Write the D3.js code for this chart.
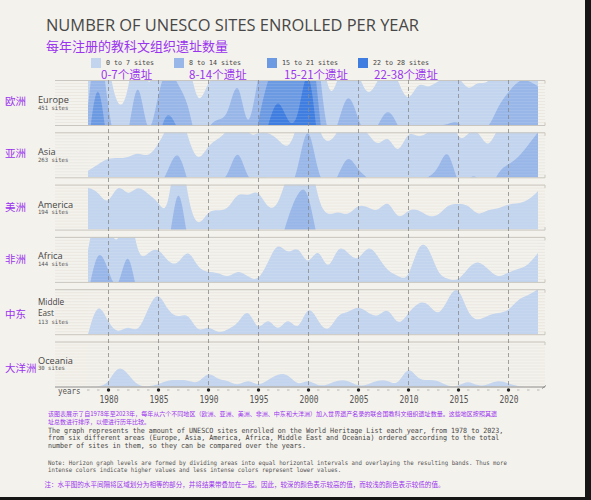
<!DOCTYPE html>
<html><head><meta charset="utf-8">
<script src="https://cdn.jsdelivr.net/npm/d3@7"></script>
<style>
html,body{margin:0;padding:0;background:#161616;}
svg{display:block;}
</style></head>
<body>
<svg id="chart" width="585" height="497"></svg>
<script>
// ---------- DATA ----------
const years = d3.range(1978, 2024);
const tickYears = [1980,1985,1990,1995,2000,2005,2010,2015,2020];
const regions = ["Europe","Asia","America","Africa","Middle East","Oceania"];
const regionsZh = ["欧洲","亚洲","美洲","非洲","中东","大洋洲"];
const totals = [451,263,194,144,113,30];

const europe = [10,24,9,2,4,17,3,12,17,13, 11,2,7,8,8,16,4,15,21,26, 21,21,33,18,3,7,13,8,4,7, 10,7,3,7,5.5,7,7,8,5,7, 6,10,12,14,14,13];
const asia = [1,2,3,3,3,4,3,5,8,12, 6,2,5,6,7,12.5,6,7,7,6, 4,8,17,7,5,7,11,8,7,4.5, 7,3,7.5,6,7,8,12.5,5,7,7.5, 4,8,9,10,12,14];
const america = [6.5,6,3.5,7.5,5,7,5.5,4.5,1.5,17, 4,0,3,3,3,6,5,6.5,3,3.5, 9,13,14,4,2,3,2,4,3.5,2.6, 5,1.2,3.2,3.2,2,2,4,4,4,2, 3.2,3.2,4,4,4.5,6];
const africa = [5,13,9,4.5,14,3,4.5,5.5,3,2.5, 5.5,2,1.5,1.5,0.5,2,0.8,0,3,6.5, 4,6,2,6,1,6,4.5,3,6,4, 1.5,1,0,6,6,1,0.5,0,2.2,3.5, 2,0.5,1.5,2,2.5,4.5];
const middleEast = [0,5.5,1.8,0,1.5,0,4,7,3.5,2.5, 3.5,0,1.5,0,0.8,1.5,4.5,0,3,0, 3,0,5,2,0,3.3,3.3,4.5,3.3,2.5, 4.5,1,3.3,5,5,2.5,5.5,8,3,2, 3,3.3,3.5,5.5,6,7];
const oceania = [0,0,0.3,3.5,2,0,0,0.3,1,1, 1,0.3,2.5,1,1,0,1.2,0,1,2, 2,0,1.2,0,0.3,1,1,0,0.3,1, 1,0,3.5,1,1,1,0,0,1,0, 0.3,1,0.5,0,0,0];
const seriesList = [europe, asia, america, africa, middleEast, oceania];

const bandSize = 7;
const bandLabels = ["0 to 7 sites","8 to 14 sites","15 to 21 sites","22 to 28 sites"];
const bandLabelsZh = ["0-7个遗址","8-14个遗址","15-21个遗址","22-38个遗址"];
const bandColors = ["#c2d4ee","#98b6e8","#6c9ae2","#3f7ee0"];

const titleText = "NUMBER OF UNESCO SITES ENROLLED PER YEAR";
const subtitleZh = "每年注册的教科文组织遗址数量";
const descZh = ["该图表展示了自1978年至2023年，每年从六个不同地区（欧洲、亚洲、美洲、非洲、中东和大洋洲）加入世界遗产名录的联合国教科文组织遗址数量。这些地区按照其遗",
                "址总数进行排序，以便进行历年比较。"];
const descEn = ["The graph represents the amount of UNESCO sites enrolled on the World Heritage List each year, from 1978 to 2023,",
                "from six different areas (Europe, Asia, America, Africa, Middle East and Oceania) ordered according to the total",
                "number of sites in them, so they can be compared over the years."];
const noteEn = ["Note: Horizon graph levels are formed by dividing areas into equal horizontal intervals and overlaying the resulting bands. Thus more",
                "intense colors indicate higher values and less intense colors represent lower values."];
const noteZh = "注：水平图的水平间隔将区域划分为相等的部分，并将结果带叠加在一起。因此，较深的颜色表示较高的值，而较浅的颜色表示较低的值。";

// ---------- LAYOUT ----------
const W = 585, Hsvg = 497;
const purple = "#9a34ee";
const mono = "'DejaVu Sans Mono', monospace";
const sans = "'Open Sans', 'DejaVu Sans', sans-serif";
const cjk = "'Noto Sans CJK SC', sans-serif";
const lineX0 = 55, lineX1 = 545;
const panelTop0 = 80, panelStep = 52.3, panelH = 45;
const axisY = panelTop0 + 5*panelStep + panelH + 0.5;

const svg = d3.select("#chart");
svg.append("rect").attr("width", W).attr("height", Hsvg).attr("fill", "#f4f2ec");

const x = d3.scaleLinear().domain([1978, 2023]).range([88, 538]);
const yBand = d3.scaleLinear().domain([0, bandSize]).range([panelH, 0]);

// Title
svg.append("text").attr("x", 46).attr("y", 31).text(titleText)
  .attr("font-family", sans).attr("font-size", 15.6).attr("fill", "#474747")
  .attr("textLength", 373).attr("lengthAdjust", "spacingAndGlyphs");
svg.append("text").attr("x", 46).attr("y", 51).text(subtitleZh)
  .attr("font-family", cjk).attr("font-size", 13).attr("fill", purple);

// Legend
const legendX = [91, 174, 267, 358];
const legendZhX = [101, 189, 284, 374];
bandLabels.forEach((lab, i) => {
  svg.append("rect").attr("x", legendX[i]).attr("y", 58).attr("width", 10).attr("height", 10).attr("fill", bandColors[i]);
  svg.append("text").attr("x", legendX[i] + 15).attr("y", 64.5).text(lab)
    .attr("font-family", mono).attr("font-size", 6.8).attr("fill", "#444")
    .attr("textLength", lab.length * 4).attr("lengthAdjust", "spacingAndGlyphs");
  svg.append("text").attr("x", legendZhX[i]).attr("y", 79).text(bandLabelsZh[i])
    .attr("font-family", cjk).attr("font-size", 11.5).attr("fill", purple);
});

// Panels
const defs = svg.append("defs");
const area = d3.area()
  .x((d, i) => x(years[i]))
  .y0(panelH)
  .y1(d => yBand(d))
  .curve(d3.curveBasis);

const labelOffsets = [
  {zh: 24.5, lines: [23], sites: 29.5, fs: 9.2},
  {zh: 24.5, lines: [23], sites: 29.5, fs: 9.2},
  {zh: 26, lines: [23], sites: 29.5, fs: 9.2},
  {zh: 26, lines: [22.5], sites: 29, fs: 9.2},
  {zh: 29, lines: [15.4, 26.7], sites: 35, fs: 8.2},
  {zh: 30.5, lines: [22], sites: 28.5, fs: 9.2}
];

seriesList.forEach((vals, r) => {
  const top = panelTop0 + r * panelStep;
  const g = svg.append("g").attr("transform", `translate(0,${top})`);
  const cid = "clip" + r;
  defs.append("clipPath").attr("id", cid).append("rect")
    .attr("x", 0).attr("y", 0).attr("width", W).attr("height", panelH);

  d3.range(0, panelH, 3).forEach(gy => {
    g.append("line").attr("x1", lineX0).attr("x2", lineX1).attr("y1", gy + 0.5).attr("y2", gy + 0.5)
      .attr("stroke", "#e4e1da").attr("stroke-width", 0.6);
  });

  const bands = g.append("g").attr("clip-path", `url(#${cid})`);
  bandColors.forEach((c, b) => {
    bands.append("path").datum(vals).attr("d", area)
      .attr("fill", c).attr("transform", `translate(0,${b * panelH})`);
  });

  d3.range(0, panelH, 3).forEach(gy => {
    g.append("line").attr("x1", 88).attr("x2", 538).attr("y1", gy + 0.5).attr("y2", gy + 0.5)
      .attr("stroke", "#ffffff").attr("stroke-opacity", 0.18).attr("stroke-width", 0.6);
  });

  g.append("line").attr("x1", lineX0).attr("x2", lineX1).attr("y1", 0.5).attr("y2", 0.5)
    .attr("stroke", "#c9c6bf").attr("stroke-width", 1);
  g.append("line").attr("x1", lineX1).attr("x2", lineX1).attr("y1", 0.5).attr("y2", 3.5)
    .attr("stroke", "#c9c6bf");
  if (r < 5) {
    g.append("line").attr("x1", lineX0).attr("x2", lineX1).attr("y1", panelH + 0.5).attr("y2", panelH + 0.5)
      .attr("stroke", "#c9c6bf").attr("stroke-width", 1);
    g.append("line").attr("x1", lineX1).attr("x2", lineX1).attr("y1", panelH - 2.5).attr("y2", panelH + 0.5)
      .attr("stroke", "#c9c6bf");
  }

  const lo = labelOffsets[r];
  g.append("text").attr("x", 5).attr("y", lo.zh).text(regionsZh[r])
    .attr("font-family", cjk).attr("font-size", 10.5).attr("fill", purple);
  const nameParts = regions[r] === "Middle East" ? ["Middle", "East"] : [regions[r]];
  nameParts.forEach((p, k) => {
    g.append("text").attr("x", 38).attr("y", lo.lines[k]).text(p)
      .attr("font-family", sans).attr("font-size", lo.fs).attr("fill", "#444");
  });
  const st = totals[r] + " sites";
  g.append("text").attr("x", 38).attr("y", lo.sites).text(st)
    .attr("font-family", mono).attr("font-size", 5.8).attr("fill", "#555")
    .attr("textLength", st.length * 3.37).attr("lengthAdjust", "spacingAndGlyphs");
});

// vertical dashed lines
tickYears.forEach(t => {
  svg.append("line").attr("x1", x(t) + 0.5).attr("x2", x(t) + 0.5)
    .attr("y1", panelTop0).attr("y2", axisY)
    .attr("stroke", "#8a8a8a").attr("stroke-width", 0.8).attr("stroke-dasharray", "4,3");
});

// bottom axis
svg.append("line").attr("x1", lineX0).attr("x2", lineX1).attr("y1", axisY).attr("y2", axisY)
  .attr("stroke", "#8c8c8c").attr("stroke-width", 1.2);
svg.append("line").attr("x1", lineX1 - 3).attr("x2", lineX1 + 1).attr("y1", axisY + 1.5).attr("y2", axisY - 1.5)
  .attr("stroke", "#8c8c8c").attr("stroke-width", 1);
years.forEach(yr => {
  if (tickYears.includes(yr)) {
    svg.append("circle").attr("cx", x(yr) + 0.5).attr("cy", axisY + 3).attr("r", 1.7).attr("fill", "#222");
  } else {
    svg.append("line").attr("x1", x(yr) - 1).attr("x2", x(yr) + 1.5).attr("y1", axisY + 3).attr("y2", axisY + 3)
      .attr("stroke", "#aaa").attr("stroke-width", 0.8);
  }
});
const xAxis = d3.axisBottom(x).tickValues(tickYears).tickFormat(d3.format("d")).tickSize(0).tickPadding(0);
const axG = svg.append("g").attr("transform", `translate(0.5,${axisY + 15.5})`).call(xAxis);
axG.select(".domain").remove();
axG.selectAll("text").attr("font-family", mono).attr("font-size", 10.5).attr("fill", "#555")
  .attr("dy", 0).attr("textLength", 19).attr("lengthAdjust", "spacingAndGlyphs");
svg.append("text").attr("x", 58).attr("y", axisY + 7).text("years")
  .attr("font-family", mono).attr("font-size", 8.5).attr("fill", "#555")
  .attr("textLength", 22.5).attr("lengthAdjust", "spacingAndGlyphs");

// description
svg.append("text").attr("x", 48).attr("y", 416).text(descZh[0])
  .attr("font-family", cjk).attr("font-size", 6).attr("fill", purple)
  .attr("textLength", 449).attr("lengthAdjust", "spacingAndGlyphs");
svg.append("text").attr("x", 48).attr("y", 424).text(descZh[1])
  .attr("font-family", cjk).attr("font-size", 6).attr("fill", purple);
descEn.forEach((l, i) => {
  svg.append("text").attr("x", 48).attr("y", 432.5 + i * 7.9).text(l)
    .attr("font-family", mono).attr("font-size", 7.2).attr("fill", "#444")
    .attr("textLength", l.length * 4.03).attr("lengthAdjust", "spacingAndGlyphs");
});
noteEn.forEach((l, i) => {
  svg.append("text").attr("x", 48).attr("y", 464.5 + i * 7.8).text(l)
    .attr("font-family", mono).attr("font-size", 6.2).attr("fill", "#555")
    .attr("textLength", l.length * 3.45).attr("lengthAdjust", "spacingAndGlyphs");
});
svg.append("text").attr("x", 44.5).attr("y", 486.5).text(noteZh)
  .attr("font-family", cjk).attr("font-size", 6.5).attr("fill", purple)
  .attr("textLength", 400).attr("lengthAdjust", "spacingAndGlyphs");
</script>
</body></html>
